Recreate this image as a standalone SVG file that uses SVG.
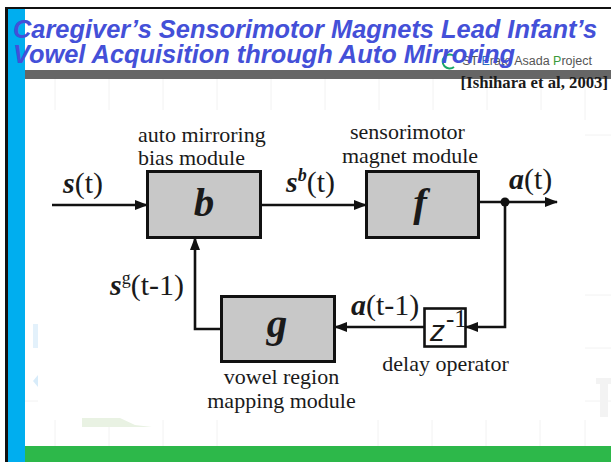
<svg xmlns="http://www.w3.org/2000/svg" width="611" height="462" viewBox="0 0 611 462">
<style>
.t{font-family:"Liberation Serif","Times New Roman",serif;fill:#1a1a1a}
.l{font-size:22px}
.m{font-size:30px}
.bi{font-weight:bold;font-style:italic}
.big{font-size:41px;text-anchor:middle}
.h{font-family:"Liberation Sans",Arial,sans-serif;font-size:25.4px;font-weight:bold;font-style:italic;fill:#4450d8}
.box{fill:#c8c8c8;stroke:#111;stroke-width:3}
.w{fill:none;stroke:#111;stroke-width:2.6}
.g{stroke:#f2f2f2;stroke-width:1;fill:none}
</style>
<defs>
<marker id="ah" markerUnits="userSpaceOnUse" markerWidth="14" markerHeight="10" refX="12" refY="5" orient="auto"><path d="M0 0L13 5L0 10Z" fill="#111"/></marker>
</defs>
<rect width="611" height="462" fill="#fff"/>
<g id="background">
<path class="g" d="M55 79V110M109 79V110M163 79V110M217 79V110M271 79V110M325 79V110M379 79V110M433 79V110M487 79V110M541 79V110M55 420V446M109 420V446M163 420V446M217 420V446M378 420V446M432 420V446M486 420V446M540 420V446M585 420V446M585 295H611M585 348H611M585 401H611M585 85V120M585 135H611M25 401H38"/>
<path d="M82 418H120L135 425L152 427H82Z" fill="#e9f2e3"/>
<path d="M33 324H38V348H33Z" fill="#e3f1fb"/>
<path d="M38 375V387L33 381Z" fill="#d8ecfa"/>
<path d="M596 378H611V384H608V417H600V384H596Z" fill="#f3f3f3"/>
<rect x="0" y="0" width="611" height="7" fill="#fff"/>
<rect x="5" y="7" width="606" height="2" fill="#111"/>
<rect x="5" y="7" width="3" height="455" fill="#111"/>
<rect x="8" y="9" width="17" height="453" fill="#00aeef"/>
<rect x="25" y="70" width="586" height="9" fill="#666"/>
<rect x="25" y="446" width="586" height="16" fill="#2db84a"/>
<path d="M454 56A7 7 0 1 0 454 67" fill="none" stroke="#19a866" stroke-width="2"/>
<text x="592" y="65" text-anchor="end" font-family="Liberation Sans,Arial,sans-serif" font-size="12.500" fill="#555">ST <tspan fill="#2a6fc0">E</tspan>rato Asada <tspan fill="#3a9a3a">P</tspan>roject</text>
</g>
<g id="title">
<text class="h" x="13" y="38">Caregiver’s Sensorimotor Magnets Lead Infant’s</text>
<text class="h" x="13" y="63">Vowel Acquisition through Auto Mirroring</text>
<text class="t" x="608" y="88" text-anchor="end" font-size="16.700" font-weight="bold">[Ishihara et al, 2003]</text>
</g>
<g id="connectors">
<path class="w" d="M52 205H147" marker-end="url(#ah)"/>
<path class="w" d="M261 205H366" marker-end="url(#ah)"/>
<path class="w" d="M479 202H557" marker-end="url(#ah)"/>
<path class="w" d="M505 202V327H466" marker-end="url(#ah)"/>
<path class="w" d="M424 327H335" marker-end="url(#ah)"/>
<path class="w" d="M221 329H195V238" marker-end="url(#ah)"/>
<circle cx="505" cy="202" r="4.500" fill="#111"/>
</g>
<g id="node-b">
<rect class="box" x="147.500" y="171.500" width="113" height="66"/>
<text class="t bi big" x="204" y="216">b</text>
<text class="t l" x="138" y="142">auto mirroring</text>
<text class="t l" x="138" y="165">bias module</text>
</g>
<g id="node-f">
<rect class="box" x="366.500" y="171.500" width="112" height="66"/>
<text class="t bi big" x="420" y="216">f</text>
<text class="t l" x="407.500" y="139" text-anchor="middle">sensorimotor</text>
<text class="t l" x="410" y="163" text-anchor="middle">magnet module</text>
</g>
<g id="node-g">
<rect class="box" x="221.500" y="296.500" width="113" height="65"/>
<text class="t bi big" x="277" y="337">g</text>
<text class="t l" x="281.500" y="384" text-anchor="middle">vowel region</text>
<text class="t l" x="281.500" y="408" text-anchor="middle">mapping module</text>
</g>
<g id="node-z">
<rect x="424.500" y="308.500" width="41" height="38" fill="#fff" stroke="#111" stroke-width="2.600"/>
<text x="430" y="341" font-family="Liberation Sans,Arial,sans-serif" font-size="30" font-style="italic" fill="#1a1a1a">z</text>
<text class="t" x="446" y="327" font-size="25">-1</text>
<text class="t l" x="445.500" y="371" text-anchor="middle">delay operator</text>
</g>
<g id="signals">
<text class="t m" x="63" y="193"><tspan class="bi">s</tspan>(t)</text>
<text class="t m" x="286" y="192"><tspan class="bi">s</tspan><tspan class="bi" font-size="18" dy="-11">b</tspan><tspan dy="11">(t)</tspan></text>
<text class="t m" x="509" y="189"><tspan class="bi">a</tspan>(t)</text>
<text class="t m" x="110" y="295"><tspan class="bi">s</tspan><tspan font-size="18" dy="-11">g</tspan><tspan dy="11">(t-1)</tspan></text>
<text class="t m" x="351" y="315"><tspan class="bi">a</tspan>(t-1)</text>
</g>
</svg>
